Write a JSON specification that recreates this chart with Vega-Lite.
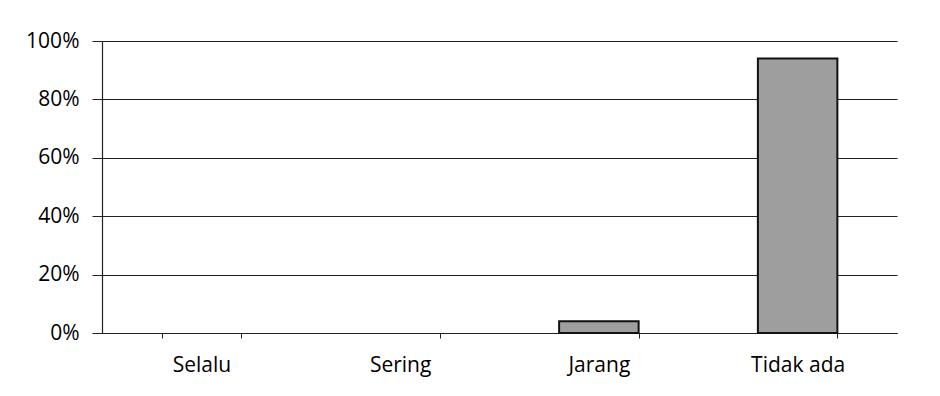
{
  "$schema": "https://vega.github.io/schema/vega-lite/v6.json",
  "width": 795,
  "height": 292,
  "autosize": "none",
  "padding": {"left": 102, "top": 41, "right": 43, "bottom": 63},
  "background": "white",
  "config": {
    "view": {"stroke": null},
    "font": "Open Sans"
  },
  "data": {
    "values": [
      {"kategori": "Selalu", "persen": 0},
      {"kategori": "Sering", "persen": 0},
      {"kategori": "Jarang", "persen": 0.04},
      {"kategori": "Tidak ada", "persen": 0.94}
    ]
  },
  "mark": {"type": "bar", "fill": "#9e9e9e", "stroke": "#111111", "strokeWidth": 2},
  "encoding": {
    "x": {
      "field": "kategori",
      "type": "nominal",
      "sort": null,
      "scale": {"paddingInner": 0.6, "paddingOuter": 0.3},
      "axis": {
        "title": null,
        "labelAngle": 0,
        "labelFont": "Open Sans",
        "labelFontSize": 21,
        "labelColor": "#000000",
        "labelPadding": 16,
        "tickBand": "extent",
        "tickSize": 5,
        "tickColor": "#222222",
        "domainColor": "#222222",
        "domainWidth": 1.2,
        "grid": false
      }
    },
    "y": {
      "field": "persen",
      "type": "quantitative",
      "scale": {"domain": [0, 1], "nice": false},
      "axis": {
        "title": null,
        "format": ".0%",
        "values": [0, 0.2, 0.4, 0.6, 0.8, 1],
        "labelFont": "Open Sans",
        "labelFontSize": 21,
        "labelColor": "#000000",
        "labelPadding": 13,
        "tickSize": 10,
        "tickColor": "#222222",
        "domainColor": "#222222",
        "domainWidth": 1.2,
        "grid": true,
        "gridColor": "#222222",
        "gridWidth": 1.2
      }
    },
    "strokeOpacity": {
      "condition": {"test": "datum.persen === 0", "value": 0},
      "value": 1
    }
  }
}
